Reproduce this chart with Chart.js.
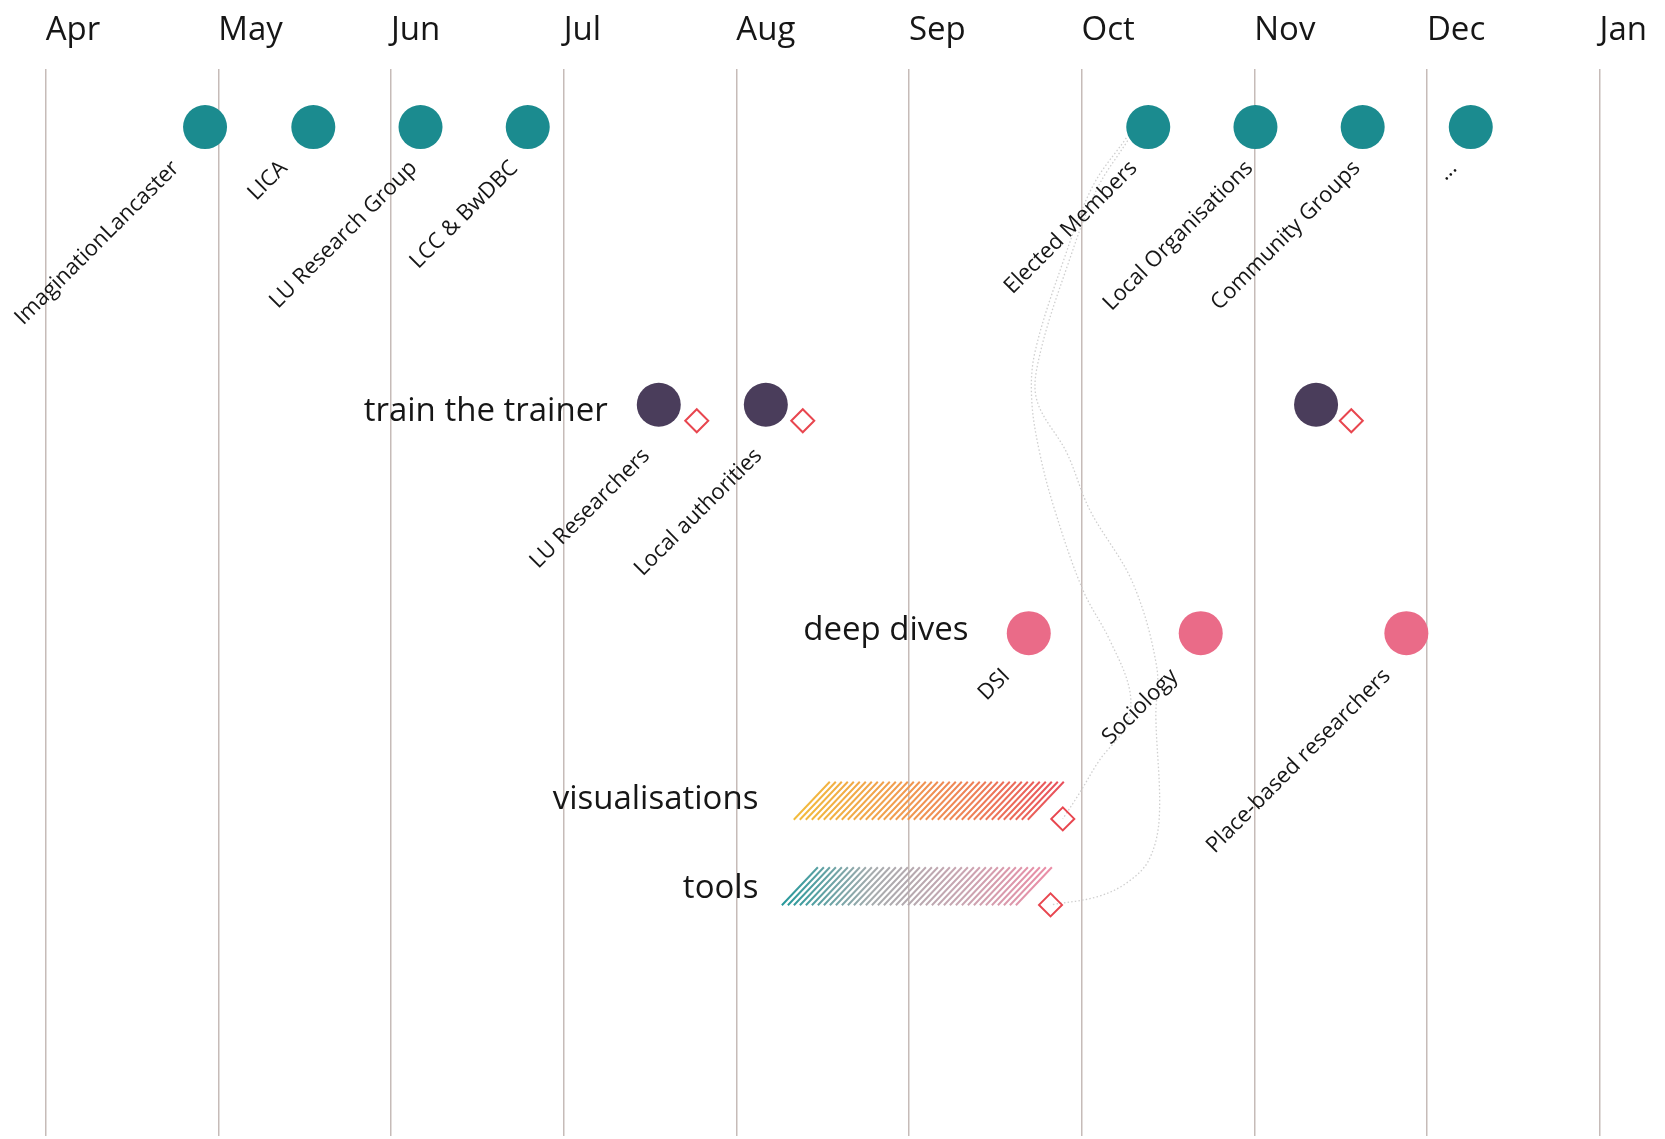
<!DOCTYPE html>
<html>
<head>
<meta charset="utf-8">
<script src="https://cdn.jsdelivr.net/npm/chart.js@4.4.1/dist/chart.umd.min.js"></script>
<style>
html,body{margin:0;padding:0;background:#ffffff;}
#wrap{width:1665px;height:1139px;position:relative;}
</style>
</head>
<body>
<div id="wrap"><canvas id="c"></canvas></div>
<script>
// ---------- DATA (x = months after start of April, lanes: 0 = top, 10 = bottom) ----------
const monthLabels = ['Apr','May','Jun','Jul','Aug','Sep','Oct','Nov','Dec','Jan'];

const engageMonths = [0.923, 1.550, 2.171, 2.792, 6.386, 7.007, 7.628, 8.254];
const engageLabels = ['ImaginationLancaster','LICA','LU Research Group','LCC & BwDBC','Elected Members','Local Organisations','Community Groups','...'];
const engageLane = 0.548;

const trainMonths = [3.551, 4.171, 7.358];
const trainLabels = ['LU Researchers','Local authorities',''];
const trainLane = 3.149;
const trainOutputMonths = [3.771, 4.385, 7.562];
const trainOutputLane = 3.299;

const diveMonths = [5.694, 6.690, 7.881];
const diveLabels = ['DSI','Sociology','Place-based researchers'];
const diveLane = 5.289;

const workNames = ['visualisations','tools'];
const workStart = [4.333, 4.264];
const workEnd = [5.690, 5.625];
const workLanes = [6.859, 7.660];
const workOutputMonths = [5.891, 5.820];
const workOutputLanes = [7.029, 7.835];

const rowTitles = ['train the trainer','deep dives','visualisations','tools'];
const rowTitleEndMonths = [3.255, 5.345, 4.128, 4.128];
const rowTitleLanes = [3.299, 5.351, 6.935, 7.770];

// faint links from "Elected Members" to the two outputs
const linkVisMonths = [6.259, 6.064, 5.891, 5.729, 5.711, 5.757, 5.844, 6.007, 6.162, 6.278, 6.261, 6.105, 5.989, 5.891];
const linkVisLanes  = [0.650, 1.103, 1.818, 2.662, 3.102, 3.599, 4.133, 4.883, 5.351, 5.820, 6.148, 6.476, 6.785, 7.029];
const linkToolMonths = [6.267, 6.087, 5.920, 5.758, 5.740, 5.914, 6.047, 6.296, 6.435, 6.430, 6.450, 6.390, 6.261, 6.087, 5.820];
const linkToolLanes  = [0.675, 1.134, 1.837, 2.680, 3.102, 3.599, 4.133, 4.817, 5.604, 6.073, 7.010, 7.413, 7.629, 7.760, 7.835];

// ---------- helpers ----------
const pts = (xs, ys) => xs.map((v, i) => ({x: v, y: Array.isArray(ys) ? ys[i] : ys}));

const FONT = "'Open Sans', 'DejaVu Sans', sans-serif";

const annot = {
  id: 'annot',
  beforeDatasetsDraw(chart, args, opts) {
    const {ctx, scales: {x, y}} = chart;
    workNames.forEach((name, i) => {
      const x0 = x.getPixelForValue(workStart[i]);
      const x1 = x.getPixelForValue(workEnd[i]);
      const yc = y.getPixelForValue(workLanes[i]);
      const h = opts.barHeight, sl = opts.barSlant;
      const yb = yc + h / 2, yt = yc - h / 2;
      const g = ctx.createLinearGradient(x0, 0, x1 + sl, 0);
      const cols = opts.barColors[i];
      cols.forEach((c, k) => g.addColorStop(k / (cols.length - 1), c));
      ctx.save();
      ctx.strokeStyle = g;
      ctx.lineWidth = opts.hatchWidth;
      ctx.lineCap = 'butt';
      ctx.beginPath();
      for (let px = x0; px <= x1 + 0.01; px += opts.hatchGap) {
        ctx.moveTo(px, yb);
        ctx.lineTo(px + sl, yt);
      }
      ctx.stroke();
      ctx.restore();
    });
  },
  afterDatasetsDraw(chart, args, opts) {
    const {ctx, scales: {x, y}} = chart;
    chart.data.datasets.forEach((ds, di) => {
      if (!ds.pointLabels) return;
      const meta = chart.getDatasetMeta(di);
      ctx.save();
      ctx.font = opts.labelFont;
      ctx.fillStyle = opts.color;
      ctx.textAlign = 'right';
      ctx.textBaseline = 'alphabetic';
      meta.data.forEach((el, i) => {
        const t = ds.pointLabels[i];
        if (!t) return;
        ctx.save();
        ctx.translate(el.x + ds.labelDx[i], el.y + ds.labelDy);
        ctx.rotate(-Math.PI / 4);
        ctx.fillText(t, 0, 0);
        ctx.restore();
      });
      ctx.restore();
    });
    ctx.save();
    ctx.font = opts.titleFont;
    ctx.fillStyle = opts.color;
    ctx.textAlign = 'right';
    ctx.textBaseline = 'alphabetic';
    rowTitles.forEach((t, i) => {
      ctx.fillText(t, x.getPixelForValue(rowTitleEndMonths[i]), y.getPixelForValue(rowTitleLanes[i]));
    });
    ctx.restore();
  }
};

function draw() {
  const dot = (color) => ({
    pointRadius: 22, pointHoverRadius: 22, pointBackgroundColor: color,
    pointBorderWidth: 0, borderWidth: 0, showLine: false, clip: false
  });
  const diamond = {
    pointStyle: 'rectRot', pointRadius: 11.5, pointHoverRadius: 11.5,
    pointBackgroundColor: 'rgba(255,255,255,0)', pointBorderColor: '#e8464f',
    pointBorderWidth: 2, showLine: false, clip: false
  };
  const link = {
    showLine: true, pointRadius: 0, pointHoverRadius: 0, borderColor: '#cfcfcf',
    borderWidth: 1.3, borderDash: [1.5, 2.2], tension: 0.35, fill: false, order: 5, clip: false
  };

  new Chart(document.getElementById('c'), {
    type: 'scatter',
    data: {
      datasets: [
        Object.assign({label: 'engagement', data: pts(engageMonths, engageLane),
          pointLabels: engageLabels, labelDx: [-25, -25, -2.5, -9, -10, -1.5, -1.5, -13], labelDy: 42}, dot('#1b8b8f')),
        Object.assign({label: 'train the trainer', data: pts(trainMonths, trainLane),
          pointLabels: trainLabels, labelDx: [-8, -3, 0], labelDy: 52}, dot('#4a3d5b')),
        Object.assign({label: 'training outputs', data: pts(trainOutputMonths, trainOutputLane)}, diamond),
        Object.assign({label: 'deep dives', data: pts(diveMonths, diveLane),
          pointLabels: diveLabels, labelDx: [-18, -22, -15], labelDy: 44}, dot('#ea6b88')),
        Object.assign({label: 'work outputs', data: pts(workOutputMonths, workOutputLanes)}, diamond),
        Object.assign({label: 'link vis', data: pts(linkVisMonths, linkVisLanes)}, link),
        Object.assign({label: 'link tools', data: pts(linkToolMonths, linkToolLanes)}, link)
      ]
    },
    options: {
      responsive: true,
      maintainAspectRatio: false,
      devicePixelRatio: 1,
      animation: false,
      events: [],
      layout: {autoPadding: false, padding: {top: -7, left: 0, right: 0, bottom: 3}},
      plugins: {
        legend: {display: false},
        tooltip: {enabled: false},
        annot: {
          barHeight: 38, barSlant: 36, hatchGap: 6, hatchWidth: 2,
          barColors: [
            ['#f2bc3c', '#f1a24e', '#ee8158', '#e84f5c'],
            ['#25999b', '#a7acae', '#c9a6b2', '#ec8ca6']
          ],
          labelFont: "22px " + FONT,
          titleFont: "33px " + FONT,
          color: '#161616'
        }
      },
      scales: {
        x: {
          type: 'linear',
          position: 'top',
          min: -0.2646,
          max: 9.37,
          afterBuildTicks: (scale) => { scale.ticks = monthLabels.map((_, i) => ({value: i})); },
          ticks: {
            callback: (v) => monthLabels[v] !== undefined ? monthLabels[v] : '',
            align: 'start',
            autoSkip: false,
            maxRotation: 0,
            padding: 18,
            color: '#161616',
            font: {family: FONT, size: 33}
          },
          grid: {color: '#c6bbb8', lineWidth: 1.5, drawTicks: false},
          border: {display: false}
        },
        y: {
          type: 'linear',
          display: false,
          reverse: true,
          min: 0,
          max: 10
        }
      }
    },
    plugins: [annot]
  });
}

if (document.fonts && document.fonts.load) {
  Promise.all([document.fonts.load("33px 'Open Sans'"), document.fonts.load("22px 'Open Sans'")]).then(draw, draw);
} else { draw(); }
</script>
</body>
</html>
